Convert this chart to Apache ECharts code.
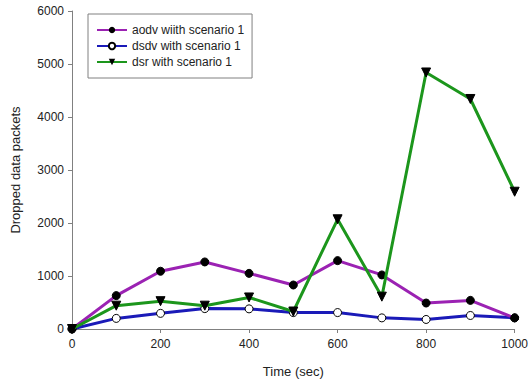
<!DOCTYPE html>
<html>
<head>
<meta charset="utf-8">
<script src="https://cdn.jsdelivr.net/npm/echarts@6/dist/echarts.min.js"></script>
<style>
  html, body { margin: 0; padding: 0; background: #fff; }
  #chart { width: 531px; height: 386px; }
</style>
</head>
<body>
<div id="chart"></div>
<script>
// ── Data ──────────────────────────────────────────────────────────────
const times = [0, 100, 200, 300, 400, 500, 600, 700, 800, 900, 1000];
const aodv = [0, 630, 1090, 1265, 1050, 830, 1290, 1020, 490, 540, 210];
const dsdv = [0, 200, 295, 385, 380, 310, 310, 210, 180, 255, 210];
const dsr  = [0, 440, 525, 440, 595, 330, 2070, 610, 4840, 4340, 2590];
const seriesNames = ['aodv wiith scenario 1', 'dsdv with scenario 1', 'dsr with scenario 1'];

// ── Style ─────────────────────────────────────────────────────────────
const fontFamily = '"Liberation Sans", Arial, sans-serif';
const axisGray = '#808080';
const textColor = '#222';

const pairs = (ys) => times.map((t, i) => [t, ys[i]]);
const plain = (v) => String(v);

const chart = echarts.init(document.getElementById('chart'), null, { renderer: 'svg' });
chart.setOption({
  animation: false,
  grid: { left: 72, right: 14, top: 11, bottom: 57 },
  legend: {
    orient: 'vertical',
    left: 88, top: 14,
    width: 172,
    padding: [10, 8, 10, 8],
    borderColor: '#808080', borderWidth: 1,
    itemWidth: 30, itemHeight: 8, itemGap: 4,
    textStyle: { fontFamily, fontSize: 12, color: textColor },
    data: seriesNames,
  },
  xAxis: {
    type: 'value', min: 0, max: 1000, interval: 200,
    name: 'Time (sec)', nameLocation: 'middle', nameGap: 36,
    nameTextStyle: { fontFamily, fontSize: 13, color: textColor },
    axisLine: { lineStyle: { color: axisGray } },
    axisTick: { show: true, length: 4, lineStyle: { color: axisGray } },
    axisLabel: { fontFamily, fontSize: 12, color: textColor, margin: 9, formatter: plain },
    splitLine: { show: false },
  },
  yAxis: {
    type: 'value', min: 0, max: 6000, interval: 1000,
    name: 'Dropped data packets', nameLocation: 'middle', nameGap: 50,
    nameTextStyle: { fontFamily, fontSize: 13, color: textColor },
    axisLine: { show: true, lineStyle: { color: axisGray } },
    axisTick: { show: true, length: 4, lineStyle: { color: axisGray } },
    axisLabel: { fontFamily, fontSize: 12, color: textColor, margin: 8, formatter: plain },
    splitLine: { show: false },
  },
  series: [
    {
      name: seriesNames[0], type: 'line', data: pairs(aodv),
      lineStyle: { color: '#9b22b3', width: 3 },
      itemStyle: { color: '#000', borderColor: '#000' },
      symbol: 'circle', symbolSize: 8, z: 3,
    },
    {
      name: seriesNames[1], type: 'line', data: pairs(dsdv),
      lineStyle: { color: '#1a1ab8', width: 3 },
      itemStyle: { color: '#fff', borderColor: '#000', borderWidth: 1 },
      symbol: 'circle', symbolSize: 8, z: 2,
    },
    {
      name: seriesNames[2], type: 'line', data: pairs(dsr),
      lineStyle: { color: '#1c961c', width: 3 },
      itemStyle: { color: '#000', borderColor: '#000' },
      symbol: 'triangle', symbolRotate: 180, symbolSize: 9, z: 4,
    },
  ],
});
</script>
</body>
</html>
